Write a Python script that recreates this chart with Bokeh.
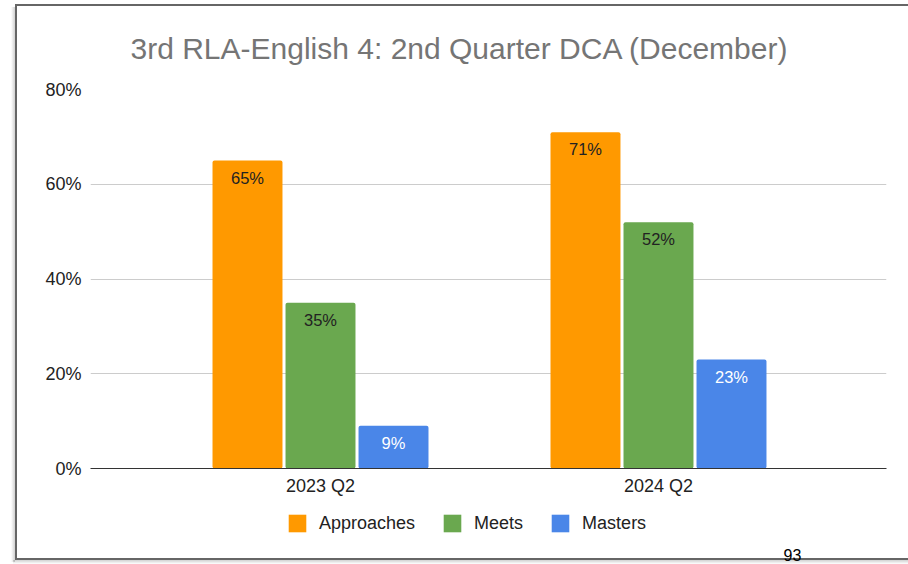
from bokeh.plotting import figure
from bokeh.layouts import column
from bokeh.models import (Range1d, FixedTicker, ColumnDataSource, Legend,
                          LegendItem, Label)
from bokeh.core.properties import value
from bokeh.embed import file_html
from bokeh.resources import INLINE

# ---- data ----
title_text = "3rd RLA-English 4: 2nd Quarter DCA (December)"
categories = ["2023 Q2", "2024 Q2"]
series_names = ["Approaches", "Meets", "Masters"]
approaches = [65, 71]
meets = [35, 52]
masters = [9, 23]
y_ticks = [0, 20, 40, 60, 80]
y_tick_labels = ["0%", "20%", "40%", "60%", "80%"]
page_number = "93"

# ---- styles ----
colors = ["#FF9900", "#6AA84F", "#4A86E8"]
label_colors = ["#222222", "#222222", "#FFFFFF"]
offsets = [-0.216, 0.0, 0.216]
bar_w = 0.207
FONT = "Liberation Sans"

frame_css = ", ".join([
    "linear-gradient(#666666,#666666) 15px 4px / 893px 2px no-repeat",
    "linear-gradient(#666666,#666666) 15px 558px / 893px 2px no-repeat",
    "linear-gradient(#666666,#666666) 15px 4px / 2px 556px no-repeat",
    "linear-gradient(to right, rgba(0,0,0,0), rgba(0,0,0,0.18)) 11px 7px / 4px 555px no-repeat",
    "linear-gradient(rgba(0,0,0,0.18), rgba(0,0,0,0)) 13px 560px / 895px 4px no-repeat",
    "#ffffff",
])

series_values = [approaches, meets, masters]
cat_idx = list(range(len(categories)))

# ---- main chart ----
p = figure(width=908, height=500, output_backend="svg", toolbar_location=None,
           x_range=Range1d(-0.6805, 1.6746), y_range=Range1d(0, 80),
           min_border_left=90, min_border_right=22, min_border_top=89,
           min_border_bottom=32)
p.outline_line_color = None
p.background_fill_color = "white"
p.border_fill_color = None

p.title.text = title_text
p.title.align = "left"
p.title.offset = 40
p.title.standoff = 50
p.title.text_font = FONT
p.title.text_font_size = "30px"
p.title.text_font_style = "normal"
p.title.text_color = "#757575"

for vals, col, lc, off in zip(series_values, colors, label_colors, offsets):
    src = ColumnDataSource(dict(x=[i + off for i in cat_idx], top=vals,
                                label=[f"{v}%" for v in vals]))
    p.vbar(x="x", top="top", bottom=0, width=bar_w, source=src,
           fill_color=col, line_color=None, border_radius=2)
    p.text(x="x", y="top", text="label", source=src, text_align="center",
           text_baseline="middle", y_offset=17, text_color=lc,
           text_font=value(FONT), text_font_size="16.5px")

p.xaxis.ticker = FixedTicker(ticks=cat_idx)
p.xaxis.major_label_overrides = {i: c for i, c in enumerate(categories)}
p.xaxis.axis_line_color = "#333333"
p.xaxis.axis_line_width = 1
p.xaxis.major_tick_line_color = None
p.xaxis.minor_tick_line_color = None
p.xaxis.major_tick_out = 0
p.xaxis.major_tick_in = 0
p.xaxis.major_label_standoff = 7
p.xaxis.major_label_text_font = FONT
p.xaxis.major_label_text_font_size = "18px"
p.xaxis.major_label_text_color = "#222222"
p.xgrid.grid_line_color = None

p.yaxis.ticker = FixedTicker(ticks=y_ticks)
p.yaxis.major_label_overrides = dict(zip(y_ticks, y_tick_labels))
p.yaxis.axis_line_color = None
p.yaxis.major_tick_line_color = None
p.yaxis.minor_tick_line_color = None
p.yaxis.major_tick_out = 0
p.yaxis.major_tick_in = 0
p.yaxis.major_label_standoff = 9
p.yaxis.major_label_text_font = FONT
p.yaxis.major_label_text_font_size = "18px"
p.yaxis.major_label_text_color = "#222222"
p.ygrid.ticker = FixedTicker(ticks=y_ticks)
p.ygrid.grid_line_color = "#CCCCCC"
p.ygrid.grid_line_width = 1

# ---- legend strip below the chart (frame aligned with the chart's frame) ----
q = figure(width=908, height=64, output_backend="svg", toolbar_location=None,
           x_range=Range1d(-0.6805, 1.6746), y_range=Range1d(0, 80),
           x_axis_location=None, y_axis_location=None,
           min_border_left=0, min_border_right=0, min_border_top=0,
           min_border_bottom=0)
q.outline_line_color = None
q.background_fill_color = None
q.border_fill_color = None
q.grid.visible = False

items = []
for name, vals, col in zip(series_names, series_values, colors):
    r = q.vbar(x=cat_idx, top=vals, width=bar_w, fill_color=col,
               line_color=None, visible=False)
    items.append(LegendItem(label=name, renderers=[r]))

legend = Legend(items=items, orientation="horizontal", location=(196, 30),
                glyph_width=22, glyph_height=22, label_standoff=11, spacing=26,
                padding=0, margin=0, border_line_color=None,
                background_fill_alpha=0, label_text_font=FONT,
                label_text_font_size="18px", label_text_color="#222222")
q.add_layout(legend)

q.add_layout(Label(x=693, y=10, x_units="screen", y_units="screen",
                   text=page_number, text_align="left",
                   text_baseline="alphabetic", text_font=FONT,
                   text_font_size="16px", text_color="#000000"))

layout = column(p, q, spacing=0, styles={"background": frame_css})
open("out.html", "w").write(file_html(layout, INLINE))
